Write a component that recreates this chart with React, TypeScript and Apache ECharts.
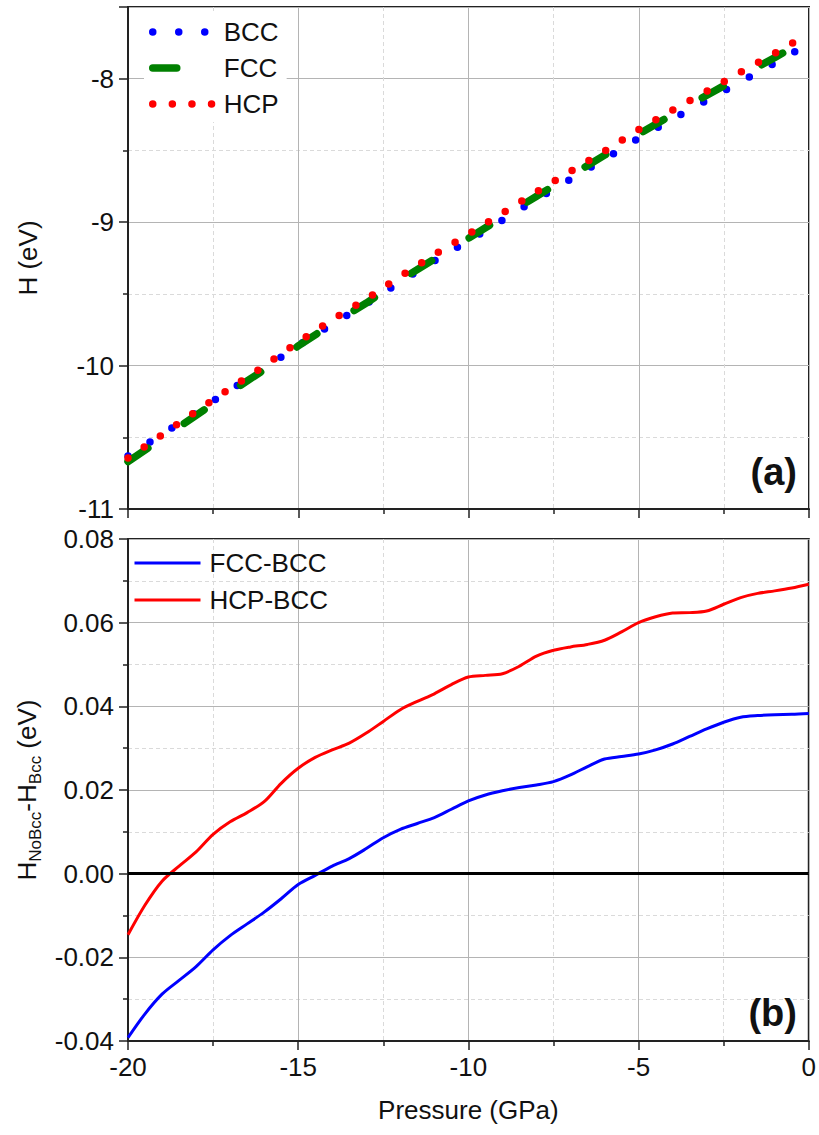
import React, { useEffect, useRef } from "react";
import * as echarts from "echarts";

// ---------- Data ----------
const pressureTop = [-20, -19, -18, -17, -16, -15, -14, -13, -12, -11, -10, -9, -8, -7, -6, -5, -4, -3, -2, -1, 0];
const hBCC = [-10.63, -10.48, -10.325, -10.17, -10.02, -9.86, -9.71, -9.57, -9.415, -9.27, -9.13, -8.985, -8.84, -8.7, -8.56, -8.415, -8.28, -8.15, -8.02, -7.89, -7.755];
const hFCC = [-10.669, -10.509, -10.347, -10.185, -10.029, -9.863, -9.708, -9.564, -9.404, -9.257, -9.113, -8.965, -8.819, -8.676, -8.533, -8.386, -8.249, -8.115, -7.983, -7.852, -7.717];
const hHCP = [-10.645, -10.482, -10.32, -10.158, -10.003, -9.835, -9.68, -9.536, -9.376, -9.227, -9.083, -8.937, -8.788, -8.646, -8.504, -8.355, -8.218, -8.087, -7.954, -7.822, -7.686];

const pressureBottom = [-20, -19.5, -19, -18.5, -18, -17.5, -17, -16.5, -16, -15.5, -15, -14.5, -14, -13.5, -13, -12.5, -12, -11.5, -11, -10.5, -10, -9.5, -9, -8.5, -8, -7.5, -7, -6.5, -6, -5.5, -5, -4.5, -4, -3.5, -3, -2.5, -2, -1.5, -1, -0.5, 0];
const dFCCminusBCC = [-0.0392, -0.0335, -0.0288, -0.0255, -0.0222, -0.0182, -0.0148, -0.012, -0.0092, -0.006, -0.0026, -0.0004, 0.0018, 0.0036, 0.006, 0.0086, 0.0106, 0.012, 0.0134, 0.0154, 0.0174, 0.0188, 0.0198, 0.0206, 0.0212, 0.022, 0.0236, 0.0256, 0.0274, 0.028, 0.0286, 0.0296, 0.031, 0.0328, 0.0346, 0.0362, 0.0374, 0.0378, 0.038, 0.0381, 0.0383];
const dHCPminusBCC = [-0.0146, -0.0075, -0.0018, 0.0018, 0.0052, 0.0094, 0.0124, 0.0146, 0.0172, 0.0216, 0.0252, 0.0278, 0.0296, 0.0312, 0.0336, 0.0364, 0.0392, 0.0412, 0.043, 0.0452, 0.047, 0.0474, 0.0478, 0.0496, 0.052, 0.0534, 0.0542, 0.0548, 0.0558, 0.0578, 0.06, 0.0614, 0.0623, 0.0624, 0.0628, 0.0644, 0.066, 0.067, 0.0676, 0.0683, 0.0692];

const topLegend = ["BCC", "FCC", "HCP"];
const bottomLegend = ["FCC-BCC", "HCP-BCC"];

const FONT = '"Liberation Sans", Arial, Helvetica, sans-serif';
const INK = "#111";
const AX = "#222";

const zip = (xs: number[], ys: number[]) => xs.map((x, i) => [x, ys[i]]);

function axisBase() {
  return {
    type: "value" as const,
    axisLine: { show: true, onZero: false, lineStyle: { color: AX, width: 2 } },
    axisTick: { show: true, inside: false, length: 9, lineStyle: { color: AX, width: 1.5 } },
    minorTick: { show: true, splitNumber: 2, length: 5, lineStyle: { color: AX, width: 1.5 } },
    splitLine: { show: true, lineStyle: { color: "#b4b4b4", width: 1 } },
    minorSplitLine: { show: true, lineStyle: { color: "#dadada", width: 1, type: [4, 3] } },
  };
}

const hiddenSymbol = { opacity: 0, color: "transparent", borderWidth: 0 };

export default function App() {
  const ref = useRef<HTMLDivElement>(null);
  useEffect(() => {
    const chart = echarts.init(ref.current!, null, { renderer: "svg" });
    const option: any = {
      animation: false,
      backgroundColor: "#fff",
      textStyle: { fontFamily: FONT, color: INK },
      grid: [
        { left: 128, right: 10, top: 7, height: 502, show: true, borderColor: AX, borderWidth: 2, backgroundColor: "transparent" },
        { left: 128, right: 10, top: 539, height: 502, show: true, borderColor: AX, borderWidth: 2, backgroundColor: "transparent" },
      ],
      xAxis: [
        { ...axisBase(), gridIndex: 0, min: -20, max: 0, interval: 5, axisLabel: { show: false } },
        {
          ...axisBase(), gridIndex: 1, min: -20, max: 0, interval: 5,
          axisLabel: { show: true, fontSize: 26, color: INK, margin: 13, fontFamily: FONT },
          name: "Pressure (GPa)", nameLocation: "middle", nameGap: 56,
          nameTextStyle: { fontSize: 26, color: INK, fontFamily: FONT },
        },
      ],
      yAxis: [
        {
          ...axisBase(), gridIndex: 0, min: -11, max: -7.5, interval: 1,
          axisLabel: {
            show: true, fontSize: 26, color: INK, margin: 14, fontFamily: FONT,
            formatter: (v: number) => (Number.isInteger(v) ? String(v) : ""),
          },
          name: "H (eV)", nameLocation: "middle", nameGap: 87,
          nameTextStyle: { fontSize: 26, color: INK, fontFamily: FONT },
        },
        {
          ...axisBase(), gridIndex: 1, min: -0.04, max: 0.08, interval: 0.02,
          axisLabel: {
            show: true, fontSize: 26, color: INK, margin: 14, fontFamily: FONT,
            formatter: (v: number) => v.toFixed(2),
          },
          name: "{a|H}{b|NoBcc}{a|-H}{b|Bcc}{a| (eV)}", nameLocation: "middle", nameGap: 82,
          nameTextStyle: {
            fontFamily: FONT, color: INK,
            rich: {
              a: { fontSize: 26, lineHeight: 30, verticalAlign: "top", fontFamily: FONT, color: INK },
              b: { fontSize: 17, lineHeight: 17, padding: [18, 0, 0, 0], verticalAlign: "bottom", fontFamily: FONT, color: INK },
            },
          },
        },
      ],
      legend: [
        {
          left: 144, top: 14, orient: "vertical", itemWidth: 66, itemHeight: 26, itemGap: 10,
          backgroundColor: "#fff", padding: [5, 8, 5, 5],
          textStyle: { fontSize: 26, color: INK, fontFamily: FONT },
          data: [
            { name: topLegend[0], lineStyle: { width: 7.5 }, itemStyle: hiddenSymbol },
            { name: topLegend[1], lineStyle: { width: 7.5 }, itemStyle: hiddenSymbol },
            { name: topLegend[2], lineStyle: { width: 7.5 }, itemStyle: hiddenSymbol },
          ],
        },
        {
          left: 128, top: 545, orient: "vertical", itemWidth: 66, itemHeight: 26, itemGap: 11,
          textStyle: { fontSize: 26, color: INK, fontFamily: FONT, padding: [0, 0, 0, 4] },
          data: [
            { name: bottomLegend[0], lineStyle: { width: 3 }, itemStyle: hiddenSymbol },
            { name: bottomLegend[1], lineStyle: { width: 3 }, itemStyle: hiddenSymbol },
          ],
        },
      ],
      series: [
        {
          name: topLegend[0], type: "line", xAxisIndex: 0, yAxisIndex: 0, symbol: "none",
          data: zip(pressureTop, hBCC), itemStyle: { color: "#0000ff" },
          lineStyle: { color: "#0000ff", width: 7.5, type: [0, 26], cap: "round" }, z: 3,
        },
        {
          name: topLegend[1], type: "line", xAxisIndex: 0, yAxisIndex: 0, symbol: "none",
          data: zip(pressureTop, hFCC), itemStyle: { color: "#008000" },
          lineStyle: { color: "#008000", width: 7.5, type: [24, 44], cap: "round" }, z: 4,
        },
        {
          name: topLegend[2], type: "line", xAxisIndex: 0, yAxisIndex: 0, symbol: "none",
          data: zip(pressureTop, hHCP), itemStyle: { color: "#ff0000" },
          lineStyle: { color: "#ff0000", width: 7.5, type: [0, 19.6], cap: "round" }, z: 5,
        },
        {
          name: bottomLegend[0], type: "line", xAxisIndex: 1, yAxisIndex: 1, symbol: "none", smooth: 0.3,
          data: zip(pressureBottom, dFCCminusBCC), itemStyle: { color: "#0000ff" },
          lineStyle: { color: "#0000ff", width: 3 }, z: 4,
          markLine: {
            silent: true, symbol: ["none", "none"], label: { show: false },
            lineStyle: { color: "#000", width: 3, type: "solid" },
            data: [{ yAxis: 0 }],
          },
        },
        {
          name: bottomLegend[1], type: "line", xAxisIndex: 1, yAxisIndex: 1, symbol: "none", smooth: 0.3,
          data: zip(pressureBottom, dHCPminusBCC), itemStyle: { color: "#ff0000" },
          lineStyle: { color: "#ff0000", width: 3 }, z: 4,
        },
      ],
      graphic: [
        { type: "text", x: 797, y: 472, z: 10, style: { text: "(a)", fontSize: 38, fontWeight: "bold", fontFamily: FONT, fill: INK, align: "right", verticalAlign: "middle" } },
        { type: "text", x: 797, y: 1013, z: 10, style: { text: "(b)", fontSize: 38, fontWeight: "bold", fontFamily: FONT, fill: INK, align: "right", verticalAlign: "middle" } },
      ],
    };
    chart.setOption(option);
    return () => chart.dispose();
  }, []);
  return (
    <div
      ref={ref}
      style={{ position: "absolute", left: 0, top: 0, width: 819, height: 1135, background: "#fff" }}
    />
  );
}
